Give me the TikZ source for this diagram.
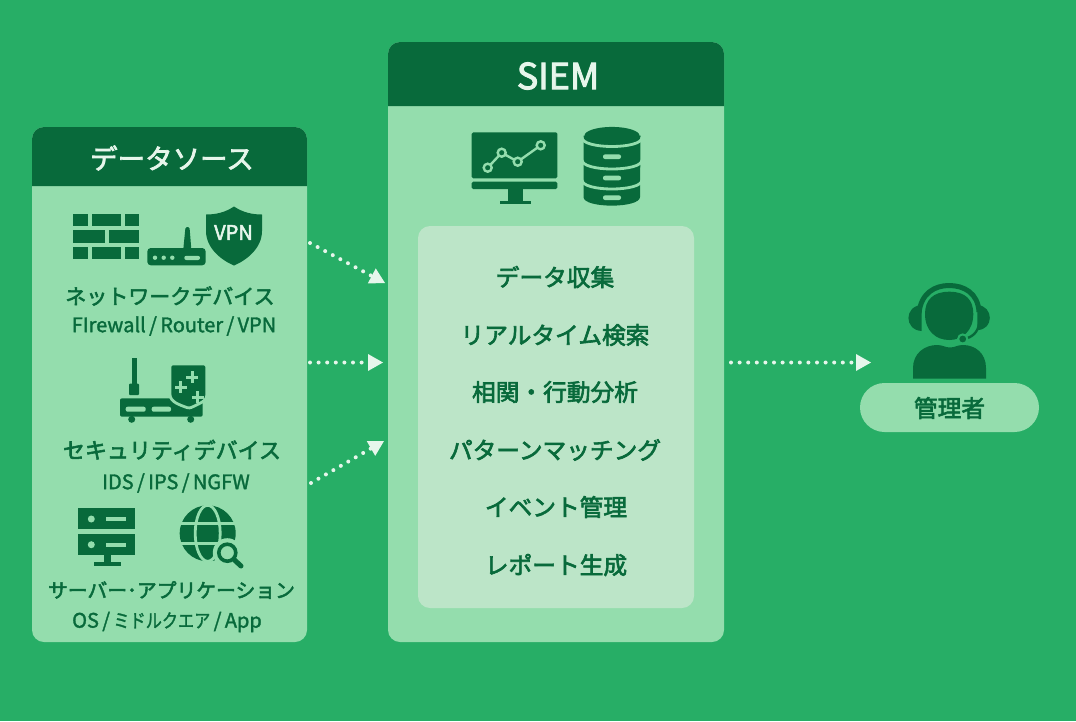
\documentclass[tikz,border=0pt]{standalone}
\usepackage{fontspec}
\setmainfont{Noto Sans CJK JP}
\newfontfamily\jpmed{Noto Sans CJK JP}[FakeBold=2.6]
\newfontfamily\jpsub{Noto Sans CJK JP}[FakeBold=1.6]
\usetikzlibrary{arrows.meta}
\definecolor{bggreen}{HTML}{27AE66}
\definecolor{darkgreen}{HTML}{086A3B}
\definecolor{panelgreen}{HTML}{94DDAD}
\definecolor{innergreen}{HTML}{BCE5C8}
\definecolor{paleink}{HTML}{E6F6EB}
\tikzset{
	title/.style={text=paleink,font=\jpmed\fontsize{27.5}{34}\selectfont,inner sep=0pt},
	device/.style={text=darkgreen,font=\jpmed\fontsize{21.5}{26}\selectfont,inner sep=0pt},
	subtext/.style={text=darkgreen,font=\jpsub\fontsize{20}{23}\selectfont,inner sep=0pt},
	listitem/.style={text=darkgreen,font=\jpmed\fontsize{23.7}{28}\selectfont,inner sep=0pt},
	dotarrow/.style={draw=paleink,line width=4pt,line cap=round,dash pattern=on 0pt off 8.6pt,
		-{Triangle[length=15pt,width=17pt,fill=paleink,line width=0pt]}},
	cutline/.style={draw=panelgreen,line width=2.8pt},
	ink/.style={fill=darkgreen},
	cut/.style={fill=panelgreen}
}
\begin{document}
\begin{tikzpicture}[x=1pt,y=-1pt]
	\useasboundingbox (0,0) rectangle (1076,721);
	\fill[bggreen] (0,0) rectangle (1076,721);
	% panels
	\fill[panelgreen,rounded corners=12pt] (32,127) rectangle (307,642);
	\fill[panelgreen,rounded corners=12pt] (388,42) rectangle (724,642);
	\fill[innergreen,rounded corners=12pt] (418,226) rectangle (694,608);
	\fill[darkgreen] (32,186) [rounded corners=12pt] -- (32,127) -- (307,127) [sharp corners] -- (307,186) -- cycle;
	\fill[darkgreen] (388,106) [rounded corners=12pt] -- (388,42) -- (724,42) [sharp corners] -- (724,106) -- cycle;
	\node[title] (sourcetitle) at (172,158) {データソース};
	\node[title,font=\jpmed\fontsize{36}{40}\selectfont] (siemtitle) at (558,76) {SIEM};
	% firewall
	\foreach \a/\b in {73.2/87.5,91.8/121.2,124.8/139}{
		\fill[ink] (\a,213.5) rectangle (\b,225.8);
		\fill[ink] (\a,246.5) rectangle (\b,258.8);
	}
	\fill[ink] (73.2,230) rectangle (104.5,242.5);
	\fill[ink] (108.5,230) rectangle (139,242.5);
	% router
	\fill[ink,rounded corners=3.5pt] (147.3,248) rectangle (205.7,265.3);
	\fill[ink,rounded corners=1.5pt] (183.3,249) -- (185.5,227) -- (189.5,227) -- (191.3,249) -- cycle;
	\foreach \a in {155,163.7,172.3}
		\fill[cut] (\a,257.7) circle (2.2);
	\fill[cut,rounded corners=2pt] (184.3,255.8) rectangle (200,260);
	% vpn shield
	\fill[ink] (234,206.5) .. controls (243,212.5) and (252,214.5) .. (262,214.5) -- (262,231)
		.. controls (262,248) and (247,260) .. (234,265.5)
		.. controls (221,260) and (206,248) .. (206,231) -- (206,214.5)
		.. controls (216,214.5) and (225,212.5) .. (234,206.5) -- cycle;
	\node[text=paleink,font=\jpmed\fontsize{20}{22}\selectfont,inner sep=0pt] (vpn) at (233.5,232.5) {VPN};
	\node[device,font=\jpmed\fontsize{21}{26}\selectfont] (netdevice) at (170,296) {ネットワークデバイス};
	\node[subtext] (netsub) at (174,326) {FIrewall\,/\,Router\,/\,VPN};
	% security appliance
	\fill[ink] (131.7,358.3) rectangle (136.7,385);
	\fill[ink,rounded corners=1pt] (129,383.5) rectangle (139,395);
	\fill[ink,rounded corners=2pt] (120,398.3) rectangle (202.7,416.7);
	\fill[ink] (131.7,419.3) circle (3.5);
	\fill[ink] (190.7,419.3) circle (3.5);
	\fill[cut,rounded corners=2pt] (125.7,406.7) rectangle (145.7,411.7);
	\fill[cut,rounded corners=2pt] (151.7,406.7) rectangle (171,411.7);
	\fill[ink,cutline,rounded corners=2.5pt] (170,364) -- (206.7,364) -- (206.7,398)
		.. controls (202,403) and (196,405) .. (189.5,408.5)
		.. controls (180,405) and (170,402) .. (170,392) -- cycle;
	\foreach \a/\b in {192.3/377.3,180.7/387.3,197.7/397.3}{
		\fill[cut] (\a-6,\b-1.5) rectangle (\a+6,\b+1.5);
		\fill[cut] (\a-1.5,\b-6) rectangle (\a+1.5,\b+6);
	}
	\node[device,font=\jpmed\fontsize{22}{26}\selectfont] (secdevice) at (172,450) {セキュリティデバイス};
	\node[subtext] (secsub) at (176,483) {IDS\,/\,IPS\,/\,NGFW};
	% server
	\foreach \a in {508.3,534}{
		\fill[ink] (78,\a) rectangle (135,\a+21);
		\fill[cut] (91.3,\a+10.7) circle (3.5);
		\fill[cut] (106,\a+8.7) rectangle (126,\a+13);
	}
	\fill[ink] (104,555) rectangle (110.7,563);
	\fill[ink] (94,562.3) rectangle (120.7,565.7);
	% globe
	\fill[ink] (207.7,533.3) circle (28);
	\draw[cutline] (207.7,533.3) ellipse (12.5 and 28);
	\draw[cutline] (179.7,523.3) -- (235.7,523.3);
	\draw[cutline] (179.7,543.3) -- (235.7,543.3);
	\fill[cut] (227.3,552.7) circle (14.5);
	\draw[darkgreen,line width=5pt,line cap=round] (234.5,560) -- (241,566);
	\draw[darkgreen,line width=3.6pt] (227.3,552.7) circle (8.5);
	\node[device,font=\jpmed\fontsize{19.8}{26}\selectfont] (srvdevice) at (171.5,590) {サーバー･アプリケーション};
	\node[subtext] (srvsub) at (167,622) {OS\,/\,\scalebox{0.85}[1]{\fontsize{19}{20}\selectfont ミドルクエア}\,/\,App};
	% monitor
	\fill[ink,rounded corners=1.5pt] (471.7,132.3) rectangle (557.3,178.3);
	\fill[ink,rounded corners=1.5pt] (471.7,181.7) rectangle (557.3,189);
	\fill[ink] (508,188) rectangle (523.3,201);
	\fill[ink] (500,200.7) rectangle (531.3,204.3);
	\draw[panelgreen,line width=2.4pt] (487.7,167.7) -- (501.7,152.7) -- (517.7,161.7) -- (540.7,145.3);
	\foreach \a/\b in {487.7/167.7,501.7/152.7,517.7/161.7,540.7/145.3}
		\draw[panelgreen,fill=darkgreen,line width=2.4pt] (\a,\b) circle (4);
	% database
	\fill[ink] (583.5,135.7) -- (640.5,135.7) -- (640,197) .. controls (640,208.5) and (583.5,208.5) .. (583.5,197) -- cycle;
	\fill[ink] (612,135.7) ellipse (27.5 and 8.8);
	\foreach \a in {137.5,160,180}
		\draw[cutline] (582,\a) .. controls (582,\a+12) and (642,\a+12) .. (642,\a);
	\foreach \a in {156.7,178,197.7}
		\fill[cut,rounded corners=2pt] (603,\a-2.3) rectangle (621,\a+2.3);
	% list
	\node[listitem] (collect) at (555,277) {データ収集};
	\node[listitem] (search) at (555,335) {リアルタイム検索};
	\node[listitem] (correlate) at (555,392) {相関・行動分析};
	\node[listitem] (pattern) at (555,450) {パターンマッチング};
	\node[listitem] (event) at (556,507) {イベント管理};
	\node[listitem] (report) at (556,565) {レポート生成};
	% admin
	\draw[darkgreen,line width=5pt] (919,313) .. controls (921,293) and (935,285.5) .. (949,285.5)
		.. controls (964,285.5) and (978,293) .. (979,312);
	\fill[ink] (921.7,305) .. controls (904,306) and (904,330) .. (921.7,331) -- cycle;
	\fill[ink] (977.3,305) .. controls (994,306) and (994,330) .. (977.3,330) -- cycle;
	\fill[ink] (949.3,291.7) .. controls (966,291.7) and (973.3,300) .. (973.3,314)
		.. controls (973.3,331) and (962,340) .. (949.3,340)
		.. controls (936,340) and (925,331) .. (925,314)
		.. controls (925,300) and (933,291.7) .. (949.3,291.7) -- cycle;
	\fill[ink] (913,378.7) -- (913,368) .. controls (913,353) and (925,345) .. (937,345)
		.. controls (943,345) and (945,347.5) .. (950,347.5)
		.. controls (955,347.5) and (957,345) .. (963,345)
		.. controls (975,345) and (986,353) .. (986,368) -- (986,378.7) -- cycle;
	\draw[darkgreen,line width=2.4pt] (979,324) .. controls (978,332) and (972,338) .. (963,339);
	\draw[bggreen,fill=darkgreen,line width=2pt] (962.7,339) circle (4.6);
	\fill[panelgreen] (884.5,383) -- (1014.5,383) arc[start angle=-90,end angle=90,radius=24.5] -- (884.5,432) arc[start angle=90,end angle=270,radius=24.5] -- cycle;
	\node[listitem] (admin) at (949.5,408) {管理者};
	% connectors
	\coordinate (netstart) at (310,243);
	\coordinate (netend) at (385,283);
	\coordinate (secstart) at (310,362.5);
	\coordinate (secend) at (383,362.5);
	\coordinate (srvstart) at (311,483);
	\coordinate (srvend) at (384,441);
	\coordinate (adminstart) at (731,362.5);
	\coordinate (adminend) at (871,362.5);
	\draw[dotarrow] (netstart) -- (netend);
	\draw[dotarrow] (secstart) -- (secend);
	\draw[dotarrow] (srvstart) -- (srvend);
	\draw[dotarrow] (adminstart) -- (adminend);
\end{tikzpicture}
\end{document}
